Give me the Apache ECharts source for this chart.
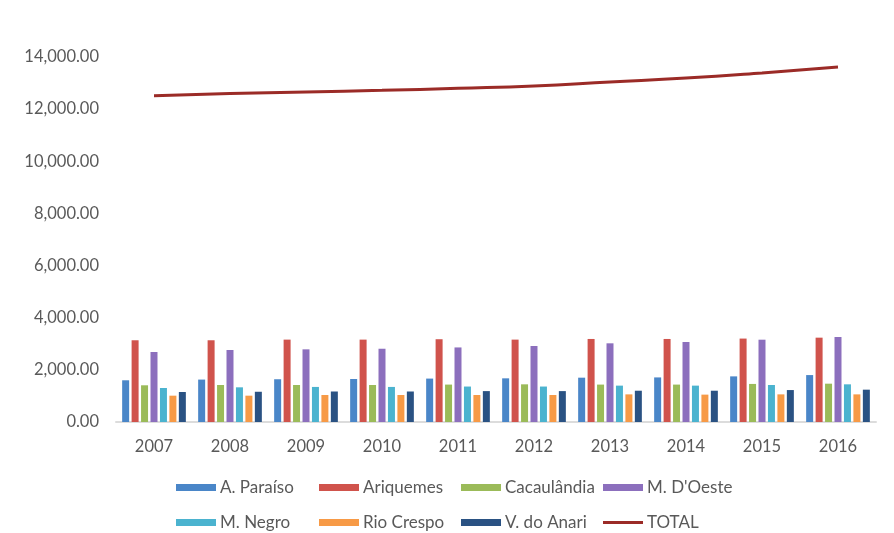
<!DOCTYPE html>
<html>
<head>
<meta charset="utf-8">
<script src="https://cdn.jsdelivr.net/npm/echarts@6/dist/echarts.min.js"></script>
<style>
  html, body { margin: 0; padding: 0; background: #fff; }
  #main { width: 894px; height: 533px; }
</style>
</head>
<body>
<div id="main"></div>
<script>
// anos
var years = ['2007', '2008', '2009', '2010', '2011', '2012', '2013', '2014', '2015', '2016'];

// valores por município
var aParaiso    = [1600, 1627, 1640, 1650, 1665, 1675, 1700, 1710, 1750, 1800];
var ariquemes   = [3135, 3135, 3160, 3160, 3175, 3160, 3185, 3185, 3200, 3235];
var cacaulandia = [1408, 1420, 1420, 1420, 1435, 1445, 1435, 1435, 1460, 1470];
var mDoeste     = [2685, 2762, 2787, 2810, 2860, 2915, 3018, 3069, 3157, 3260];
var mNegro      = [1305, 1330, 1345, 1345, 1360, 1360, 1395, 1395, 1420, 1445];
var rioCrespo   = [1010, 1010, 1035, 1035, 1035, 1035, 1060, 1050, 1060, 1060];
var vAnari      = [1150, 1160, 1170, 1170, 1185, 1185, 1200, 1200, 1225, 1240];
var total       = [12510, 12600, 12660, 12720, 12800, 12890, 13040, 13190, 13390, 13620];

var chart = echarts.init(document.getElementById('main'));

function fmt(v) {
  return v.toFixed(2).replace(/\B(?=(\d{3})+(?!\d))/g, ',');
}

function bar(name, data, color) {
  return {
    name: name,
    type: 'bar',
    data: data,
    barWidth: 7,
    barGap: '35%',
    itemStyle: { color: color }
  };
}

var txt = { color: '#595959', fontSize: 16.5, fontFamily: 'Lato' };

// one legend per item so it sits where the original has it
function leg(name, left, top, h) {
  return {
    left: left,
    top: top,
    padding: 0,
    itemWidth: 40,
    itemHeight: h || 7,
    itemGap: 0,
    textStyle: Object.assign({ padding: [0, 0, 0, -1] }, txt, { fontSize: 17 }),
    data: [{ name: name, icon: 'rect' }]
  };
}

chart.setOption({
  backgroundColor: '#fff',
  animation: false,
  grid: { left: 116, right: 18, top: 57, bottom: 111 },
  legend: [
    leg('A. Paraíso', 176, 479),
    leg('Ariquemes', 319, 479),
    leg('Cacaulândia', 461, 479),
    leg('M. D\'Oeste', 603, 479),
    leg('M. Negro', 176, 514),
    leg('Rio Crespo', 319, 514),
    leg('V. do Anari', 461, 514),
    leg('TOTAL', 603, 514, 3)
  ],
  xAxis: {
    type: 'category',
    data: years,
    axisLine: { lineStyle: { color: '#dcdcdc', width: 2 } },
    axisTick: { show: false },
    axisLabel: Object.assign({ margin: 16 }, txt)
  },
  yAxis: {
    type: 'value',
    min: 0,
    max: 14000,
    interval: 2000,
    splitLine: { show: false },
    axisLine: { show: false },
    axisTick: { show: false },
    axisLabel: Object.assign({ margin: 17, formatter: fmt }, txt)
  },
  series: [
    bar('A. Paraíso', aParaiso, '#4a86c8'),
    bar('Ariquemes', ariquemes, '#d0534c'),
    bar('Cacaulândia', cacaulandia, '#9bbb59'),
    bar('M. D\'Oeste', mDoeste, '#8c6fbd'),
    bar('M. Negro', mNegro, '#4bb3cf'),
    bar('Rio Crespo', rioCrespo, '#f79a46'),
    bar('V. do Anari', vAnari, '#2a5283'),
    {
      name: 'TOTAL',
      type: 'line',
      data: total,
      smooth: true,
      symbol: 'none',
      lineStyle: { color: '#9b2b27', width: 3 },
      itemStyle: { color: '#9b2b27' }
    }
  ]
});
</script>
</body>
</html>
